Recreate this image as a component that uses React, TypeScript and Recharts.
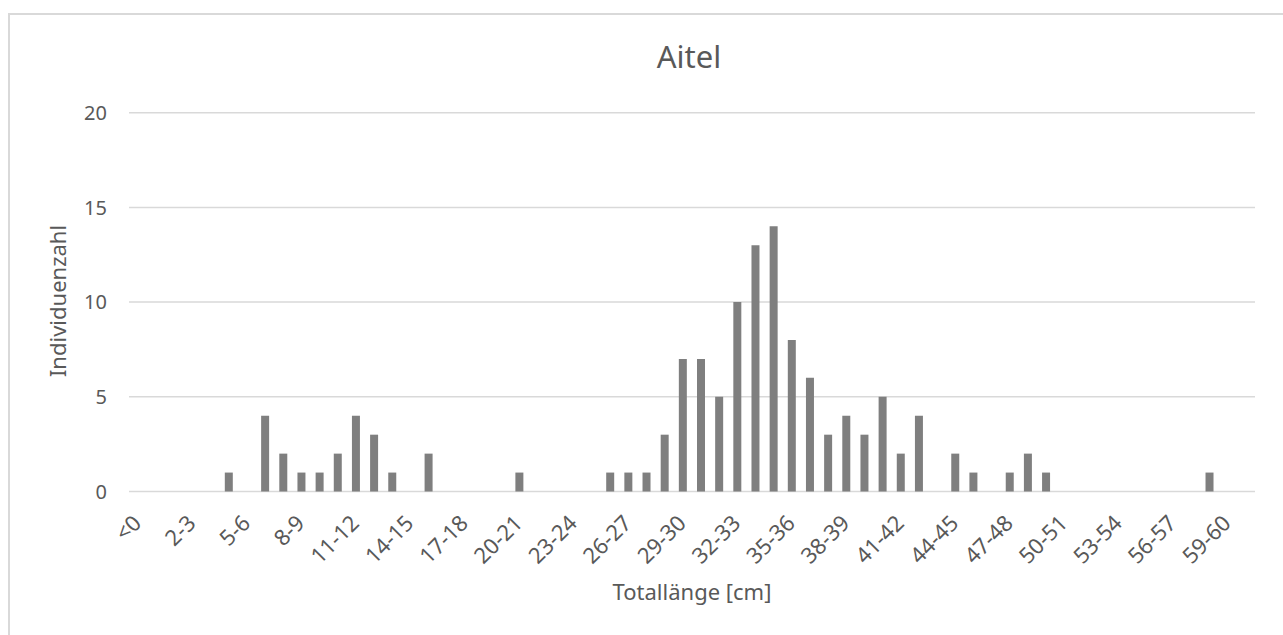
import React from 'react';
import { BarChart, Bar, XAxis, YAxis, CartesianGrid } from 'recharts';

const categories: string[] = [
  '<0', '0-1', '1-2', '2-3', '3-4', '4-5', '5-6', '6-7', '7-8', '8-9',
  '9-10', '10-11', '11-12', '12-13', '13-14', '14-15', '15-16', '16-17', '17-18', '18-19',
  '19-20', '20-21', '21-22', '22-23', '23-24', '24-25', '25-26', '26-27', '27-28', '28-29',
  '29-30', '30-31', '31-32', '32-33', '33-34', '34-35', '35-36', '36-37', '37-38', '38-39',
  '39-40', '40-41', '41-42', '42-43', '43-44', '44-45', '45-46', '46-47', '47-48', '48-49',
  '49-50', '50-51', '51-52', '52-53', '53-54', '54-55', '55-56', '56-57', '57-58', '58-59',
  '59-60', '>60',
];

const counts: number[] = [
  0, 0, 0, 0, 0, 1, 0, 4, 2, 1,
  1, 2, 4, 3, 1, 0, 2, 0, 0, 0,
  0, 1, 0, 0, 0, 0, 1, 1, 1, 3,
  7, 7, 5, 10, 13, 14, 8, 6, 3, 4,
  3, 5, 2, 4, 0, 2, 1, 0, 1, 2,
  1, 0, 0, 0, 0, 0, 0, 0, 0, 1,
  0, 0,
];

const yTicks: number[] = [0, 5, 10, 15, 20];

const chartTitle = 'Aitel';
const xTitle = 'Totallänge [cm]';
const yTitle = 'Individuenzahl';

const data = categories.map((c, i) => ({ range: c, count: counts[i] }));

const FONT = "'Noto Sans', 'Open Sans', sans-serif";
const TEXT = '#595959';
const GRID = '#d9d9d9';

function XTick(props: any) {
  const { x, y, payload } = props;
  const ax = x + 4.5;
  const ay = y + 33;
  return (
    <text
      x={ax}
      y={ay}
      transform={`rotate(-45 ${ax} ${ay})`}
      textAnchor="end"
      fill={TEXT}
      fontSize={22}
      fontFamily={FONT}
    >
      {payload.value}
    </text>
  );
}

export default function App() {
  return (
    <div
      style={{
        position: 'fixed',
        left: 0,
        top: 0,
        width: 1283,
        height: 635,
        overflow: 'hidden',
        background: '#ffffff',
      }}
    >
      <div
        style={{
          position: 'absolute',
          left: 8,
          top: 13,
          width: 1400,
          height: 800,
          borderLeft: `2px solid ${GRID}`,
          borderTop: `2px solid ${GRID}`,
        }}
      />
      <div style={{ position: 'absolute', left: 0, top: 0 }}>
        <BarChart
          width={1283}
          height={635}
          data={data}
          margin={{ top: 112.7, right: 28, bottom: 113.5, left: 69 }}
        >
          <CartesianGrid vertical={false} stroke={GRID} strokeWidth={1.5} />
          <XAxis
            dataKey="range"
            interval={2}
            axisLine={false}
            tickLine={false}
            tickSize={0}
            tickMargin={0}
            height={30}
            tick={<XTick />}
          />
          <YAxis
            domain={[0, 20]}
            ticks={yTicks}
            width={60}
            axisLine={false}
            tickLine={false}
            tickSize={0}
            tickMargin={22}
            tick={{ fill: TEXT, fontSize: 20, fontFamily: FONT }}
          />
          <Bar dataKey="count" fill="#7f7f7f" barSize={8} isAnimationActive={false} />
        </BarChart>
      </div>
      <svg
        width={1283}
        height={635}
        style={{ position: 'absolute', left: 0, top: 0, pointerEvents: 'none' }}
      >
        <text x={689} y={68} textAnchor="middle" fill={TEXT} fontSize={31} fontFamily={FONT}>
          {chartTitle}
        </text>
        <text x={692} y={600} textAnchor="middle" fill={TEXT} fontSize={22} fontFamily={FONT}>
          {xTitle}
        </text>
        <text
          transform="translate(66 301) rotate(-90)"
          textAnchor="middle"
          fill={TEXT}
          fontSize={22}
          fontFamily={FONT}
        >
          {yTitle}
        </text>
      </svg>
    </div>
  );
}
